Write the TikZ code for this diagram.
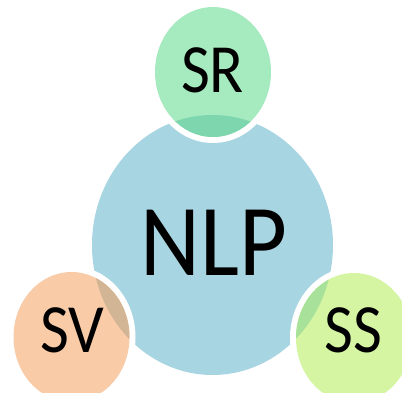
\documentclass[tikz,border=0pt]{standalone}
\usepackage{fontspec}
\setmainfont{Carlito}
\definecolor{nlpblue}{HTML}{A8D5E2}
\definecolor{srlight}{HTML}{A6EABF}
\definecolor{srdark}{HTML}{7ED6AE}
\definecolor{svlight}{HTML}{F9CBA6}
\definecolor{svdark}{HTML}{D2B595}
\definecolor{sslight}{HTML}{D5F5A3}
\definecolor{ssdark}{HTML}{A8E29A}
\tikzset{
  bigtext/.style={inner sep=0pt, font=\fontsize{93}{93}\selectfont},
  smalltext/.style={inner sep=0pt, font=\fontsize{63}{63}\selectfont},
}
% a satellite disc: white gap ring, light fill, and a darker tint where it lies on the centre disc
\newcommand\satellite[3]{%
  \fill[white] (#1) ellipse [x radius=64, y radius=71];
  \fill[#2] (#1) ellipse [x radius=58, y radius=65];
  \begin{scope}
    \clip (core) ellipse [x radius=120.5, y radius=130];
    \fill[#3] (#1) ellipse [x radius=58, y radius=65];
  \end{scope}
}
\begin{document}
\begin{tikzpicture}[x=1bp,y=-1bp]
  \useasboundingbox (0,0) rectangle (402,393);
  \coordinate (core) at (212.5,245);
  \coordinate (srC) at (213,72);
  \coordinate (svC) at (71.5,337);
  \coordinate (ssC) at (354,338);

  \fill[nlpblue] (core) ellipse [x radius=120.5, y radius=130];
  \satellite{srC}{srlight}{srdark}
  \satellite{svC}{svlight}{svdark}
  \satellite{ssC}{sslight}{ssdark}

  \node[bigtext] (nlp) at (214,242.5) {\scalebox{1}[1.1]{NLP}};
  \node[smalltext] (sr) at (212.5,70) {\scalebox{1}[1.1]{SR}};
  \node[smalltext] (sv) at (72.5,330.5) {\scalebox{1}[1.1]{SV}};
  \node[smalltext] (ss) at (353.5,330.5) {\scalebox{1}[1.1]{SS}};
\end{tikzpicture}
\end{document}
